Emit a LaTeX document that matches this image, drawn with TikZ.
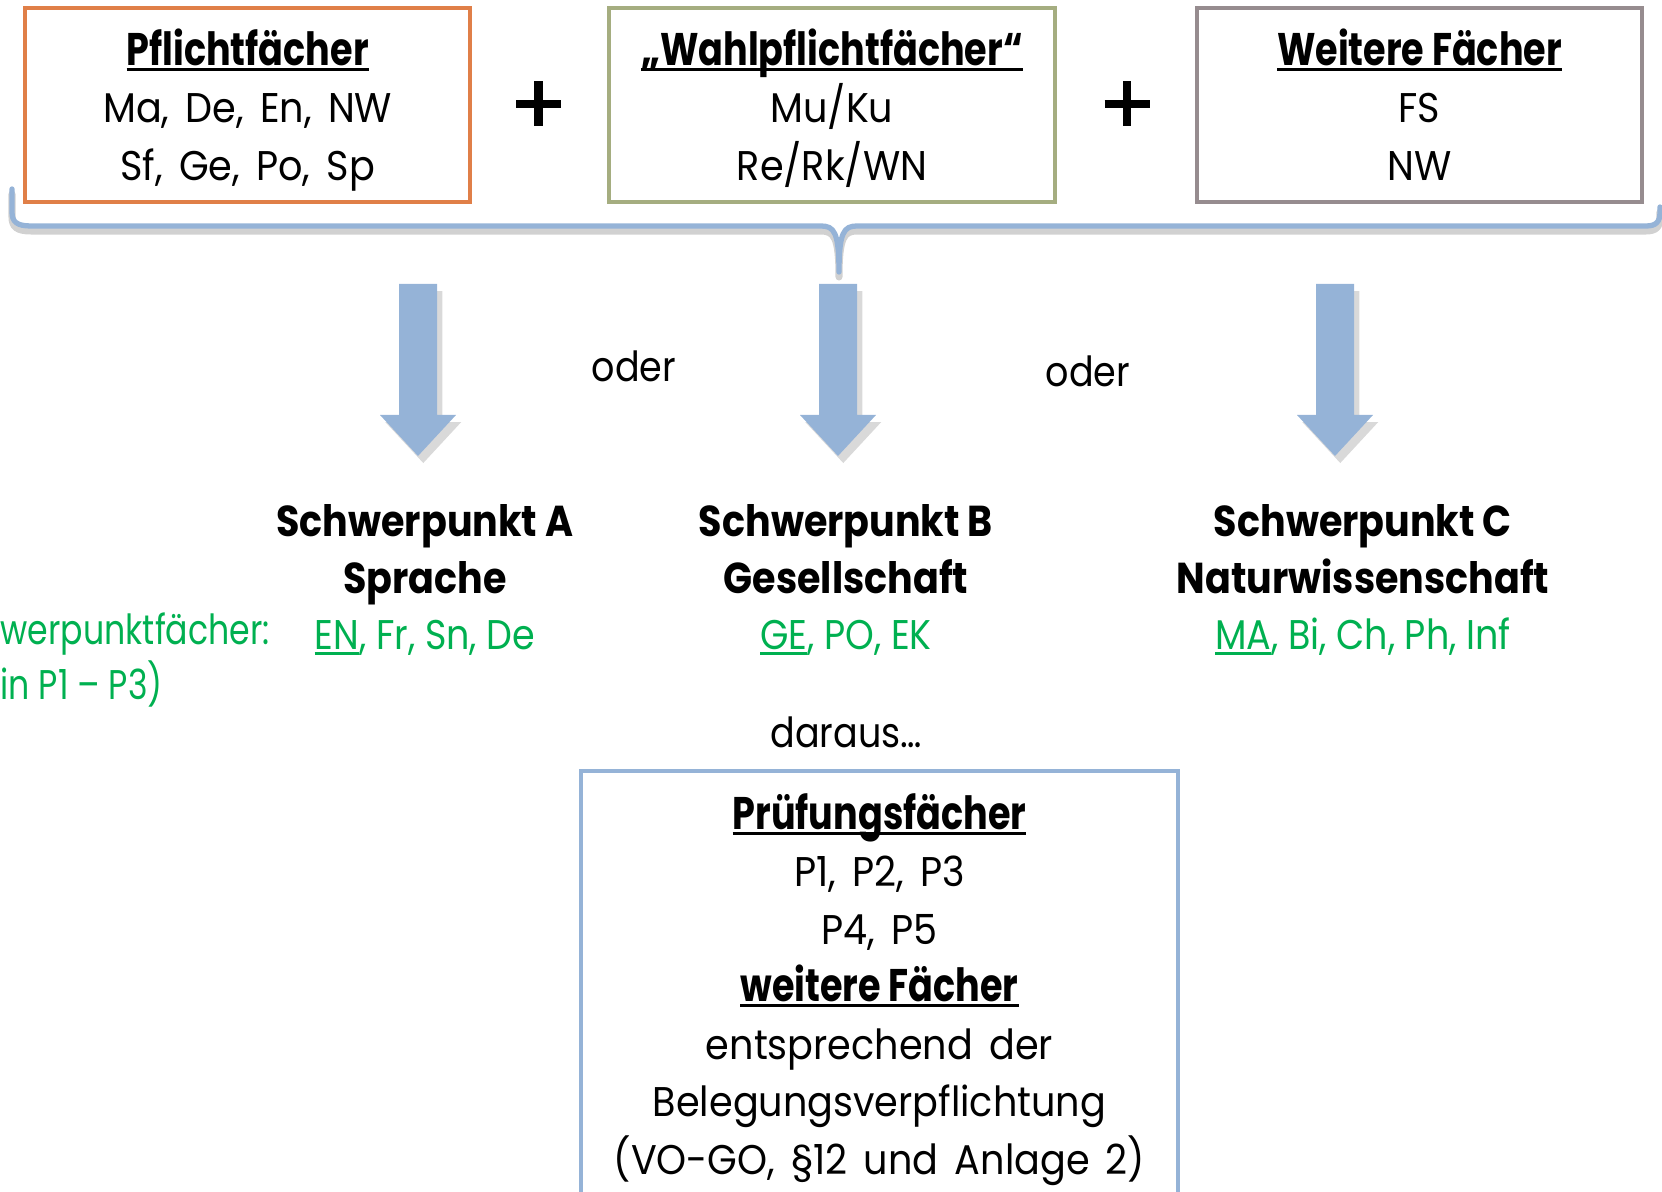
\documentclass[tikz,border=0pt]{standalone}
\usepackage{fontspec}
\setmainfont{Poppins}[FakeStretch=0.88]
\newfontfamily\boxfont{Poppins}[FakeStretch=0.92, WordSpace=1.6]
\newfontfamily\headfont{Poppins}[FakeStretch=0.8]
\newfontfamily\narrowfont{Poppins}[FakeStretch=0.8]
\usepackage{xcolor}
\usetikzlibrary{shadows}

\definecolor{boxorange}{HTML}{E07F48}
\definecolor{boxolive}{HTML}{A5AD80}
\definecolor{boxgrey}{HTML}{968C8F}
\definecolor{arrowblue}{HTML}{95B3D7}
\definecolor{focusgreen}{HTML}{00B050}

\newcommand{\ulin}[1]{\setbox0\hbox{#1}\rlap{\rule[-1.6pt]{\wd0}{0.8pt}}\box0}
\newcommand{\head}[1]{{\headfont\bfseries\fontsize{13}{16.35}\selectfont\ulin{#1}}}
\newcommand{\hstrut}{\rule{0pt}{14pt}}
\newcommand{\dstrut}{\rule[-4pt]{0pt}{4pt}}

\begin{document}
\begin{tikzpicture}
    [x=0.01cm, y=-0.01cm,
    font=\fontsize{11.8}{16.35}\selectfont,
    downarrow/.pic={
    \fill[arrowblue, drop shadow={shadow xshift=1.5pt, shadow yshift=-2pt, opacity=0.3}]
      (-19,0) -- (19,0) -- (19,131) -- (38,131) -- (0,172) -- (-38,131) -- (-19,131) -- cycle;},
    subjbox/.style={draw, line width=1.1pt, minimum width=4.45cm, minimum height=1.94cm, inner sep=0pt, align=center,
      font=\boxfont\fontsize{11.8}{16.35}\selectfont},
    spbox/.style={align=center, font=\fontsize{11.8}{16}\selectfont},
    brace/.style={draw=arrowblue, line width=1.5pt, line cap=round, line join=round},
    braceshadow/.style={draw=black!30, line width=2pt, opacity=0.6, line cap=round, line join=round},
    plusmark/.style={line width=2.4pt}]
\useasboundingbox (0,0) rectangle (1662,1192);
% subject groups
\node[subjbox, draw=boxorange] (pflicht) at (247.7,105) {\hstrut\head{Pflichtfächer}\\Ma, De, En, NW\\Sf, Ge, Po, Sp\dstrut};
\node[subjbox, draw=boxolive] (wahl) at (832,105) {\hstrut\head{„Wahlpflichtfächer“}\\Mu/Ku\\Re/Rk/WN\dstrut};
\node[subjbox, draw=boxgrey] (weitere) at (1419.5,105) {\hstrut\head{Weitere Fächer}\\FS\\NW\dstrut};
\draw[plusmark] (516,104) -- (561,104) (538.5,81.5) -- (538.5,126.5);
\draw[plusmark] (1104.5,104) -- (1149.5,104) (1127,81.5) -- (1127,126.5);
% brace
\foreach \sty/\off in {braceshadow/5, brace/0}
  \draw[\sty, shift={(1,\off)}] (11,189) -- (11,212) .. controls (11,222) and (16,226) .. (30,226) -- (820,226)
    .. controls (833,226) and (838,232) .. (838,272) .. controls (838,232) and (843,226) .. (856,226)
    -- (1645,226) .. controls (1655,226) and (1659,222) .. (1659,212) -- (1659,207);
% arrows
\pic (arrowA) at (418,284) {downarrow};
\pic (arrowB) at (838,284) {downarrow};
\pic (arrowC) at (1335,284) {downarrow};
\node (oderA) at (634,366) {oder};
\node (oderB) at (1088,371) {oder};
% focus areas
\node[spbox] (spA) at (425,580) {\textbf{\fontsize{12.3}{16}\selectfont Schwerpunkt A}\\\textbf{\fontsize{12.3}{16}\selectfont Sprache}\\\color{focusgreen}\ulin{EN}, Fr, Sn, De};
\node[spbox] (spB) at (846,580) {\textbf{\fontsize{12.3}{16}\selectfont Schwerpunkt B}\\\textbf{\fontsize{12.3}{16}\selectfont Gesellschaft}\\\color{focusgreen}\ulin{GE}, PO, EK};
\node[spbox] (spC) at (1363,580) {\textbf{\fontsize{12.3}{16}\selectfont Schwerpunkt C}\\\textbf{\fontsize{12.3}{16}\selectfont Naturwissenschaft}\\\color{focusgreen}\ulin{MA}, Bi, Ch, Ph, Inf};
\node[anchor=west, inner sep=0pt, text=focusgreen, font=\narrowfont\fontsize{11.8}{16}\selectfont] (focuslabel) at (0,634) {werpunktfächer:};
\node[anchor=west, inner sep=0pt, text=focusgreen, font=\narrowfont\fontsize{11.8}{16}\selectfont] (focusnote) at (0,684) {in P1 – P3)};
% exams
\node (daraus) at (846,732) {daraus…};
\node[subjbox, draw=arrowblue, minimum width=5.97cm, minimum height=4.26cm] (pruef) at (879.5,984)
  {\hstrut\head{Prüfungsfächer}\\P1, P2, P3\\P4, P5\\\head{weitere Fächer}\\entsprechend der\\Belegungsverpflichtung\\(VO-GO, §12 und Anlage 2)\dstrut};
\end{tikzpicture}
\end{document}
